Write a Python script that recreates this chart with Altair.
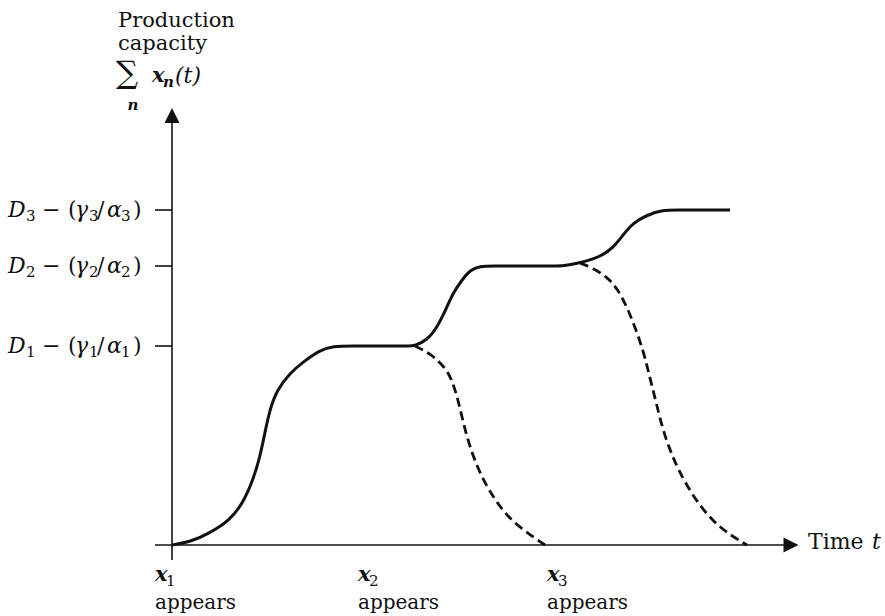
import altair as alt
import pandas as pd

# Total capacity (solid): x1 grows, then x2 and x3 enter in turn
solid_t = [0, 1.8, 3.8, 5.8, 7.1, 8.1, 8.8, 9.3, 9.8, 10.5, 11.8, 13.1, 14.8, 16.1,
           18.0, 21.0, 23.6, 24.3,
           25.5, 26.5, 27.5, 28.1, 29.0, 29.8, 30.8, 32.0, 35.0, 38.3, 39.1,
           40.8, 42.8, 44.1, 45.1, 46.1, 47.5, 49.1, 50.5, 53.0, 55.8]
solid_c = [0, 0.3, 1.2, 2.5, 4.2, 6.5, 8.8, 11.3, 13.6, 15.5, 17.2, 18.3, 19.5, 19.9,
           19.9, 19.9, 19.9, 19.9,
           20.5, 21.7, 23.8, 25.2, 26.5, 27.5, 27.9, 27.9, 27.9, 27.9, 27.9,
           28.2, 28.8, 29.7, 31.0, 32.2, 33.0, 33.5, 33.5, 33.5, 33.5]

# Decline of the older producers (dashed)
dash1_t = [24.3, 26.1, 27.5, 28.1, 28.6, 29.0, 29.5, 30.1, 31.1, 32.5, 34.1, 37.3]
dash1_c = [19.9, 19.0, 17.5, 16.2, 14.5, 12.8, 10.8, 8.9, 6.5, 4.2, 2.2, 0]
dash2_t = [40.8, 42.1, 43.5, 44.5, 45.5, 46.3, 47.1, 47.6, 48.1, 48.6, 49.1, 49.8,
           50.5, 52.1, 54.5, 57.5]
dash2_c = [28.2, 27.7, 26.8, 25.7, 23.8, 21.8, 19.5, 17.5, 15.5, 13.5, 11.5, 9.5,
           7.8, 4.8, 1.8, 0]

# Equilibrium levels D_i - (gamma_i / alpha_i) on the vertical axis
level_values = [19.9, 27.9, 33.5]
level_idx = ["1", "2", "3"]

# Entry times of the producers
entry_t = [-1.7, 18.6, 37.5]
entry_idx = ["1", "2", "3"]

T_DOM = [-17.2, 71.3]
C_DOM = [-7.1, 54.5]
FONT = "DejaVu Serif"
INK = "#111111"


def xy(tf="t", cf="c"):
    return dict(
        x=alt.X(f"{tf}:Q", scale=alt.Scale(domain=T_DOM, nice=False, zero=False), axis=None),
        y=alt.Y(f"{cf}:Q", scale=alt.Scale(domain=C_DOM, nice=False, zero=False), axis=None),
    )


def label(t, c, txt, size=20, **style):
    df = pd.DataFrame({"t": [t], "c": [c], "txt": [txt]})
    props = dict(font=FONT, fontSize=size, align="left", baseline="middle", color=INK)
    props.update(style)
    return alt.Chart(df).mark_text(**props).encode(**xy(), text="txt:N")


solid = alt.Chart(pd.DataFrame({"t": solid_t, "c": solid_c})).mark_line(
    color=INK, strokeWidth=3, interpolate="basis").encode(**xy())
dash1 = alt.Chart(pd.DataFrame({"t": dash1_t, "c": dash1_c})).mark_line(
    color=INK, strokeWidth=2.8, strokeDash=[9, 5], interpolate="basis").encode(**xy())
dash2 = alt.Chart(pd.DataFrame({"t": dash2_t, "c": dash2_c})).mark_line(
    color=INK, strokeWidth=2.8, strokeDash=[9, 5], interpolate="basis").encode(**xy())

# Axes drawn as rules with arrowheads
x_axis = alt.Chart(pd.DataFrame({"t": [-1.7], "t2": [61.2], "c": [0]})).mark_rule(
    color=INK, strokeWidth=1.6).encode(**xy(), x2="t2:Q")
y_axis = alt.Chart(pd.DataFrame({"t": [0], "c": [-1.5], "c2": [42.2]})).mark_rule(
    color=INK, strokeWidth=1.6).encode(**xy(), y2="c2:Q")
x_head = alt.Chart(pd.DataFrame({"t": [61.9], "c": [0]})).mark_point(
    shape="M-1,-1 L1,0 L-1,1 Z", size=225, filled=True, color=INK, opacity=1).encode(**xy())
y_head = alt.Chart(pd.DataFrame({"t": [0], "c": [42.95]})).mark_point(
    shape="M-1,1 L0,-1 L1,1 Z", size=225, filled=True, color=INK, opacity=1).encode(**xy())

levels = pd.DataFrame({"c": level_values, "idx": level_idx,
                       "t": [-1.7] * 3, "t2": [0] * 3, "tl": [-16.4] * 3})
ticks = alt.Chart(levels).mark_rule(color=INK, strokeWidth=1.6).encode(**xy(), x2="t2:Q")

# Tick labels typeset piece by piece: (glyph, offset, size, italic, subscript)
label_pieces = [
    ("D", 0, 22, True, False), (None, 18, 15, False, True),
    ("−", 34, 22, False, False), ("(", 60, 22, False, False),
    ("γ", 67, 22, True, False), (None, 81, 15, False, True),
    ("/", 89, 22, False, False), ("α", 99, 22, True, False),
    (None, 113, 15, False, True), (")", 125, 22, False, False),
]
tick_label_layers = []
for glyph, off, size, italic, sub in label_pieces:
    props = dict(font=FONT, fontSize=size, align="left", baseline="middle", color=INK,
                 dx=off, dy=6 if sub else 0, fontStyle="italic" if italic else "normal")
    if glyph is not None:
        props["text"] = glyph
    layer = alt.Chart(levels).mark_text(**props)
    if sub:
        layer = layer.encode(**xy("tl"), text="idx:N")
    else:
        layer = layer.encode(**xy("tl"))
    tick_label_layers.append(layer)

# "x_n appears" under the time axis
entries = pd.DataFrame({"t": entry_t, "idx": entry_idx, "sym": ["x"] * 3,
                        "word": ["appears"] * 3,
                        "c_name": [-3.0] * 3, "c_app": [-5.75] * 3})
entry_sym = alt.Chart(entries).mark_text(
    font=FONT, fontSize=21, fontStyle="italic", fontWeight="bold", align="left",
    baseline="middle", color=INK).encode(**xy("t", "c_name"), text="sym:N")
entry_sub = alt.Chart(entries).mark_text(
    font=FONT, fontSize=15, align="left", baseline="middle", color=INK, dx=11, dy=6
).encode(**xy("t", "c_name"), text="idx:N")
entry_appears = alt.Chart(entries).mark_text(
    font=FONT, fontSize=20, align="left", baseline="middle", color=INK
).encode(**xy("t", "c_app"), text="word:N")

# Vertical axis title
title_rows = pd.DataFrame({"t": [-5.4, -5.4], "c": [51.8, 49.5],
                           "txt": ["Production", "capacity"]})
title_txt = alt.Chart(title_rows).mark_text(
    font=FONT, fontSize=21, align="left", baseline="alphabetic", color=INK
).encode(**xy(), text="txt:N")
sigma = label(-5.6, 47.1, "∑", size=31)
sum_x = label(-2.0, 46.9, "x", size=21, fontStyle="italic", fontWeight="bold")
sum_n = label(-0.9, 46.3, "n", size=15, fontStyle="italic", fontWeight="bold")
sum_t = label(0.3, 46.9, "(t)", size=22, fontStyle="italic")
sigma_idx = label(-3.9, 44.0, "n", size=15, fontStyle="italic", fontWeight="bold",
                  align="center")

# Horizontal axis title
time_word = label(63.6, 0.3, "Time", size=22)
time_sym = label(70.0, 0.3, "t", size=22, fontStyle="italic")

chart = alt.layer(
    x_axis, y_axis, x_head, y_head, ticks, *tick_label_layers,
    solid, dash1, dash2,
    entry_sym, entry_sub, entry_appears,
    title_txt, sigma, sum_x, sum_n, sum_t, sigma_idx, time_word, time_sym,
).properties(
    width=885, height=616, padding=0, background="white",
    autosize=alt.AutoSizeParams(type="none"),
).configure_view(stroke=None)

chart.save("out.html", embed_options={"renderer": "svg", "actions": False})
